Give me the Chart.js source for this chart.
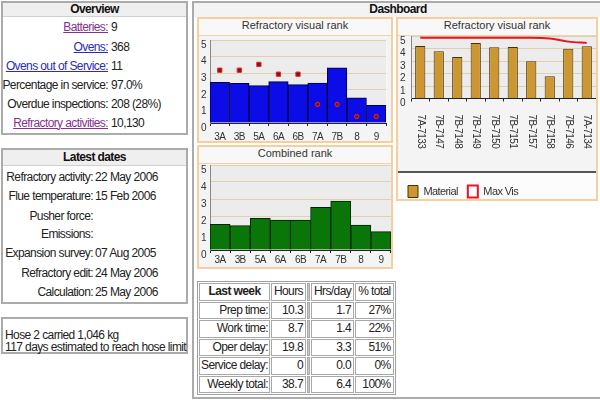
<!DOCTYPE html>
<html>
<head>
<meta charset="utf-8">
<script src="https://cdn.jsdelivr.net/npm/chart.js@4.4.1/dist/chart.umd.min.js"></script>
<style>
  body { margin: 0; width: 600px; height: 400px; overflow: hidden; background: #fff; position: relative;
         font-family: "Liberation Sans", Arial, sans-serif; font-size: 12px; letter-spacing: -0.6px; color: #222; }
  .box { position: absolute; box-sizing: border-box; border: 2px solid #ababab; background: #fff; }
  .hd { position: absolute; box-sizing: border-box; background: #efefef; border-bottom: 1px solid #d0d0d0;
        text-align: center; font-weight: bold; color: #111; }
  .row { position: absolute; left: 0; width: 188px; height: 19px; line-height: 19px; white-space: nowrap; }
  .row .l { position: absolute; text-align: right; }
  .row .v { position: absolute; }
  a { text-decoration: underline; }
  .purple { color: #84308f; }
  .blue { color: #2a2ac0; }
  .panel { position: absolute; box-sizing: border-box; border: 2px solid #f6cf9f; background: #f4f4f4; }
  .ptitle { position: absolute; left: 0; top: 0; right: 0; height: 16px; line-height: 16px; text-align: center; letter-spacing: 0;
            font: 11px "Liberation Sans", Arial, sans-serif; color: #333; background: #f8f8f8; border-bottom: 1px solid #ecd3b2; }
  .panel canvas { position: absolute; left: 0; }
  #week { position: absolute; left: 197px; top: 281px; border-collapse: separate; border-spacing: 1px; table-layout: fixed;
          border: 1px solid #a0a0a0; background: #fff; }
  #week td, #week th { border: 1px solid #a8a8a8; height: 15.5px; line-height: 15px; padding: 0 2px; text-align: right;
                       font-weight: normal; white-space: nowrap; overflow: visible; }
  #week th.first { font-weight: bold; text-align: center; }
  #week td.lab { padding: 0 1px; }
  #week th.c { text-align: center; }
  #week td.sp { width: 1px; padding: 0; background: #c8c8c8; }
</style>
</head>
<body>

<!-- Overview -->
<div class="box" style="left:1px;top:1px;width:187px;height:134px;"></div>
<div class="hd" style="left:3px;top:3px;width:183px;height:14px;line-height:13px;">Overview</div>
<div class="row" style="top:17.5px"><span class="l" style="right:80px"><a class="purple">Batteries:</a></span><span class="v" style="left:111px">9</span></div>
<div class="row" style="top:37.5px"><span class="l" style="right:80px"><a class="blue">Ovens:</a></span><span class="v" style="left:111px">368</span></div>
<div class="row" style="top:56.5px"><span class="l" style="right:80px"><a class="blue">Ovens out of Service:</a></span><span class="v" style="left:111px">11</span></div>
<div class="row" style="top:75.5px"><span class="l" style="right:80px">Percentage in service:</span><span class="v" style="left:111px">97.0%</span></div>
<div class="row" style="top:94.5px"><span class="l" style="right:80px">Overdue inspections:</span><span class="v" style="left:111px">208 (28%)</span></div>
<div class="row" style="top:113.5px"><span class="l" style="right:80px"><a class="purple">Refractory activities:</a></span><span class="v" style="left:111px">10,130</span></div>

<!-- Latest dates -->
<div class="box" style="left:1px;top:148px;width:187px;height:156px;"></div>
<div class="hd" style="left:3px;top:150px;width:183px;height:16px;line-height:15px;">Latest dates</div>
<div class="row" style="top:167.5px"><span class="l" style="right:95px">Refractory activity:</span><span class="v" style="left:95px">22 May 2006</span></div>
<div class="row" style="top:186.5px"><span class="l" style="right:95px">Flue temperature:</span><span class="v" style="left:95px">15 Feb 2006</span></div>
<div class="row" style="top:206.5px"><span class="l" style="right:95px">Pusher force:</span></div>
<div class="row" style="top:224.5px"><span class="l" style="right:95px">Emissions:</span></div>
<div class="row" style="top:243.5px"><span class="l" style="right:95px">Expansion survey:</span><span class="v" style="left:95px">07 Aug 2005</span></div>
<div class="row" style="top:263.5px"><span class="l" style="right:95px">Refractory edit:</span><span class="v" style="left:95px">24 May 2006</span></div>
<div class="row" style="top:282.5px"><span class="l" style="right:95px">Calculation:</span><span class="v" style="left:95px">25 May 2006</span></div>

<!-- Hose -->
<div class="box" style="left:1px;top:317px;width:187px;height:37px;"></div>
<div style="position:absolute;left:5px;top:328.5px;line-height:12px;white-space:nowrap;">Hose 2 carried 1,046 kg<br>117 days estimated to reach hose limit</div>

<!-- Dashboard -->
<div class="box" style="left:192px;top:1px;width:412px;height:398px;"></div>
<div class="hd" style="left:194px;top:3px;width:408px;height:14px;line-height:13px;border-bottom:none;background:#f3f3f3;">Dashboard</div>

<div class="panel" style="left:197px;top:17px;width:196px;height:126px;">
  <div class="ptitle">Refractory visual rank</div>
  <canvas id="visual" width="192" height="106" style="top:16px"></canvas>
</div>
<div class="panel" style="left:197px;top:145px;width:196px;height:124px;">
  <div class="ptitle">Combined rank</div>
  <canvas id="combined" width="192" height="104" style="top:16px"></canvas>
</div>
<div class="panel" style="left:396px;top:17px;width:202px;height:184px;">
  <div class="ptitle">Refractory visual rank</div>
  <canvas id="ovens" width="198" height="164" style="top:16px"></canvas>
</div>

<table id="week">
  <colgroup><col style="width:68px"><col style="width:31px"><col style="width:3px"><col style="width:38px"><col style="width:35px"></colgroup>
  <tr><th class="first">Last week</th><th class="c">Hours</th><td class="sp"></td><th class="c">Hrs/day</th><th class="c">% total</th></tr>
  <tr><td class="lab">Prep time:</td><td>10.3</td><td class="sp"></td><td>1.7</td><td>27%</td></tr>
  <tr><td class="lab">Work time:</td><td>8.7</td><td class="sp"></td><td>1.4</td><td>22%</td></tr>
  <tr><td class="lab">Oper delay:</td><td>19.8</td><td class="sp"></td><td>3.3</td><td>51%</td></tr>
  <tr><td class="lab">Service delay:</td><td>0</td><td class="sp"></td><td>0.0</td><td>0%</td></tr>
  <tr><td class="lab">Weekly total:</td><td>38.7</td><td class="sp"></td><td>6.4</td><td>100%</td></tr>
</table>

<script>
// data
const sections = ['3A', '3B', '5A', '6A', '6B', '7A', '7B', '8', '9'];
const visualRank = [2.45, 2.39, 2.25, 2.49, 2.31, 2.41, 3.33, 1.51, 1.06];
const visualMarks = [3.18, 3.18, 3.53, 2.94, 2.94, 1.12, 1.12, 0.39, 0.39];
const markStyles = ['rect', 'rect', 'rect', 'rect', 'rect', 'circle', 'circle', 'circle', 'circle'];
const combinedRank = [1.51, 1.43, 1.86, 1.76, 1.76, 2.51, 2.88, 1.47, 1.08];
const ovens = ['7A-7133', '7B-7147', '7B-7148', '7B-7149', '7B-7150', '7B-7151', '7B-7157', '7B-7158', '7B-7146', '7A-7134'];
const material = [4.2, 3.78, 3.32, 4.44, 4.1, 4.12, 2.98, 1.78, 3.99, 4.18];
const maxVis = [4.87, 4.87, 4.87, 4.87, 4.87, 4.87, 4.87, 4.8, 4.55, 4.45];
const rankTicks = [0, 1, 2, 3, 4, 5];

const tickFont = { family: '"Liberation Sans", Arial, sans-serif', size: 10 };
const textColor = '#333';

// grey plot background
const plotBg = {
  id: 'plotBg',
  beforeDraw(chart) {
    const { ctx, chartArea: a } = chart;
    ctx.save();
    ctx.fillStyle = '#ececec';
    ctx.fillRect(a.left, a.top, a.right - a.left, a.bottom - a.top);
    ctx.restore();
  }
};

function yAxis(width, pad) {
  return {
    min: rankTicks[0],
    max: rankTicks[rankTicks.length - 1],
    ticks: { stepSize: 1, autoSkip: false, font: tickFont, color: textColor, padding: pad, labelOffset: 5 },
    grid: { color: '#e2cfae', drawTicks: false },
    border: { color: '#888' },
    afterFit(s) { s.width = width; s.paddingTop = 0; s.paddingBottom = 0; }
  };
}

function xAxis(height, showLabels, pad) {
  return {
    grid: { drawOnChartArea: false, tickLength: 3, color: '#222' },
    border: { color: '#222' },
    ticks: { display: showLabels, font: tickFont, color: textColor, padding: pad, autoSkip: false, maxRotation: 0 },
    afterFit(s) { s.height = height; s.paddingLeft = 0; s.paddingRight = 0; }
  };
}

new Chart(document.getElementById('visual'), {
  data: {
    labels: sections,
    datasets: [{
      type: 'line',
      data: visualMarks,
      showLine: false,
      pointStyle: markStyles,
      pointRadius: [3, 3, 3, 3, 3, 2.2, 2.2, 2.2, 2.2],
      pointBackgroundColor: '#8a1010',
      pointBorderColor: '#e02828',
      pointBorderWidth: 1
    }, {
      type: 'bar',
      data: visualRank,
      backgroundColor: '#0c0ce6',
      borderColor: '#000038',
      borderWidth: 1,
      barPercentage: 1,
      categoryPercentage: 1
    }]
  },
  options: {
    responsive: false,
    animation: false,
    layout: { padding: { top: 2, left: 0, right: 0, bottom: 0 } },
    plugins: { legend: { display: false }, tooltip: { enabled: false } },
    scales: { x: xAxis(18, true, 5), y: yAxis(11, 4) }
  },
  plugins: [plotBg]
});

new Chart(document.getElementById('combined'), {
  type: 'bar',
  data: {
    labels: sections,
    datasets: [{
      data: combinedRank,
      backgroundColor: '#0a760a',
      borderColor: '#002600',
      borderWidth: 1,
      barPercentage: 1,
      categoryPercentage: 1
    }]
  },
  options: {
    responsive: false,
    animation: false,
    layout: { padding: { top: 2, left: 0, right: 0, bottom: 0 } },
    plugins: { legend: { display: false }, tooltip: { enabled: false } },
    scales: { x: xAxis(17, true, 1), y: yAxis(11, 4) }
  },
  plugins: [plotBg]
});

// oven names read top to bottom under the bars
const downLabels = {
  id: 'downLabels',
  afterDraw(chart) {
    const x = chart.scales.x, ctx = chart.ctx;
    ctx.save();
    ctx.font = '10px "Liberation Sans", Arial, sans-serif';
    ctx.fillStyle = textColor;
    ctx.textAlign = 'left';
    ctx.textBaseline = 'middle';
    ovens.forEach((name, i) => {
      ctx.save();
      ctx.translate(x.getPixelForTick(i), x.top + 16);
      ctx.rotate(Math.PI / 2);
      ctx.fillText(name, 0, 0);
      ctx.restore();
    });
    ctx.restore();
  }
};

// white legend band with a dark rule above it
const legendBand = {
  id: 'legendBand',
  beforeDraw(chart) {
    const ctx = chart.ctx, y = chart.legend.top - 3.5;
    ctx.save();
    ctx.fillStyle = '#fcfcfc';
    ctx.fillRect(0, y, chart.width, chart.height - y);
    ctx.fillStyle = '#555';
    ctx.fillRect(0, y - 1, chart.width, 2);
    ctx.restore();
  }
};

new Chart(document.getElementById('ovens'), {
  data: {
    labels: ovens,
    datasets: [{
      type: 'bar',
      label: 'Material',
      data: material,
      backgroundColor: '#cc9633',
      borderColor: '#4a3000',
      borderWidth: 1,
      barPercentage: 0.55,
      categoryPercentage: 1
    }, {
      type: 'line',
      label: 'Max Vis',
      data: maxVis,
      borderColor: '#e8141e',
      backgroundColor: '#ffffff',
      borderWidth: 2,
      pointRadius: 0,
      cubicInterpolationMode: 'monotone'
    }]
  },
  options: {
    responsive: false,
    animation: false,
    layout: { padding: { top: 1, left: 0, right: 0, bottom: -8.5 } },
    plugins: {
      tooltip: { enabled: false },
      legend: {
        position: 'bottom',
        align: 'start',
        labels: {
          boxWidth: 10,
          boxHeight: 12,
          padding: 10,
          color: '#333',
          font: { family: '"Liberation Sans", Arial, sans-serif', size: 11 }
        }
      }
    },
    scales: { x: xAxis(77, false, 1), y: yAxis(13, 6) }
  },
  plugins: [plotBg, legendBand, downLabels]
});
</script>
</body>
</html>
